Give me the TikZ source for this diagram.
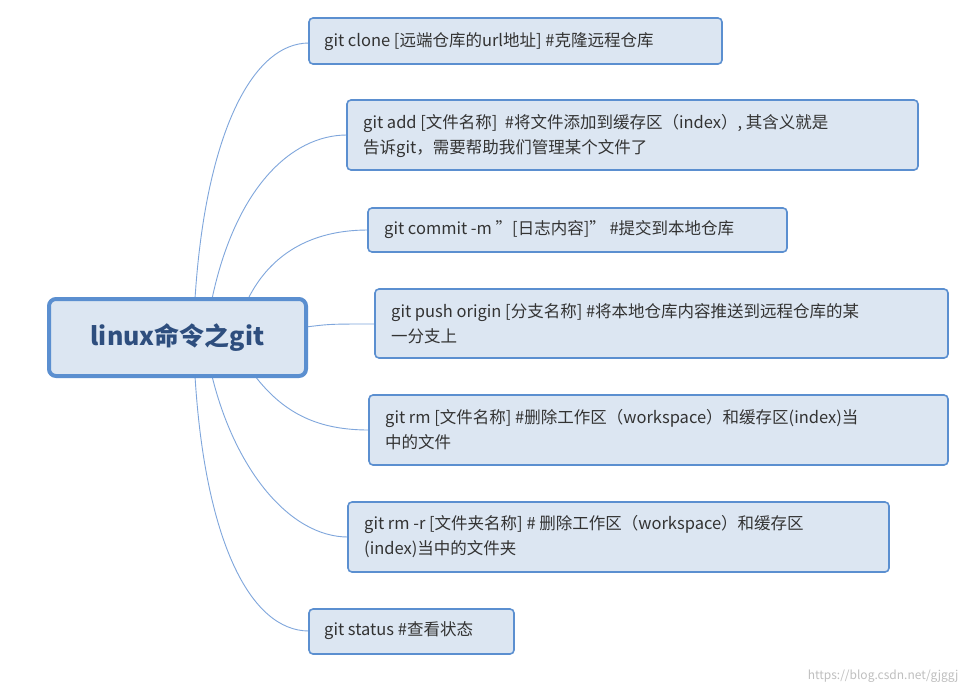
\documentclass[tikz,border=0pt]{standalone}
\usepackage{fontspec}
\setmainfont{Noto Sans CJK SC}
\begin{document}
\begin{tikzpicture}[x=1pt,y=-1pt,
  box/.style={draw=boxline,fill=boxfill,line width=1.6pt,rounded corners=4pt},
  txt/.style={anchor=west,align=left,text=txtc,font=\fontsize{16.5}{25}\selectfont,inner sep=0pt},
  link/.style={draw=linkc,line width=0.9pt}]
\definecolor{boxline}{HTML}{5B8FD0}
\definecolor{boxfill}{HTML}{DCE6F2}
\definecolor{txtc}{HTML}{333333}
\definecolor{linkc}{HTML}{7FA6DC}
\definecolor{ctext}{HTML}{2E4E7E}
\useasboundingbox[fill=white] (0,0) rectangle (968,691);
% links
\coordinate (s1) at (195,299); \coordinate (s2) at (212,299); \coordinate (s3) at (248,299);
\coordinate (s5) at (255,376); \coordinate (s6) at (212,376); \coordinate (s7) at (195,376);
\draw[link] (s1) .. controls (205,140) and (250,43) .. (309,43);
\draw[link] (s2) .. controls (235,190) and (290,135) .. (347,135);
\draw[link] (s3) .. controls (270,255) and (310,230) .. (368,230);
\draw[link] (306,327) .. controls (330,324) .. (375,324);
\draw[link] (s5) .. controls (285,415) and (320,430) .. (369,430);
\draw[link] (s6) .. controls (235,470) and (290,537) .. (348,537);
\draw[link] (s7) .. controls (205,540) and (250,631) .. (309,631);
% boxes
\path[box] (309,18) rectangle (722,64);
\node[txt] (t1) at (324,42) {git clone [远端仓库的url地址] \#克隆远程仓库};
\path[box] (347,100) rectangle (918,170);
\node[txt] (t2) at (363,136) {git add [文件名称] \ \#将文件添加到缓存区（index）, 其含义就是\\告诉git，需要帮助我们管理某个文件了};
\path[box] (368,208) rectangle (787,252);
\node[txt] (t3) at (384,230) {git commit -m "[日志内容]" \#提交到本地仓库};
\path[box] (375,289) rectangle (948,358);
\node[txt] (t4) at (391,324) {git push origin [分支名称] \#将本地仓库内容推送到远程仓库的某\\一分支上};
\path[box] (369,395) rectangle (948,465);
\node[txt] (t5) at (385,430) {git rm [文件名称] \#删除工作区（workspace）和缓存区(index)当\\中的文件};
\path[box] (348,502) rectangle (889,572);
\node[txt] (t6) at (364,537) {git rm -r [文件夹名称] \# 删除工作区（workspace）和缓存区\\(index)当中的文件夹};
\path[box] (309,609) rectangle (514,654);
\node[txt] (t7) at (324,631) {git status \#查看状态};
% center
\path[draw=boxline,fill=boxfill,line width=4pt,rounded corners=7pt] (49,299) rectangle (306,376);
\node[text=ctext,font=\fontsize{25}{30}\selectfont\bfseries] (c) at (177.5,337.5) {linux命令之git};
\node[anchor=east,text=black!25,font=\fontsize{12}{14}\selectfont] (wm) at (962,676) {https://blog.csdn.net/gjggj};
\end{tikzpicture}
\end{document}
